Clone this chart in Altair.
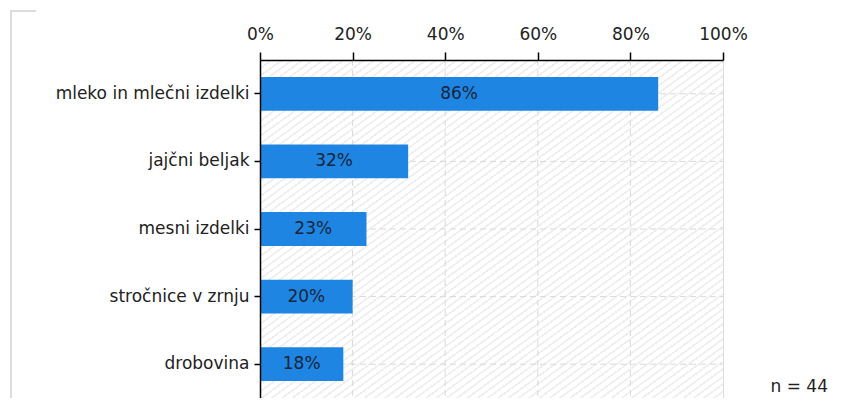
import altair as alt
import pandas as pd

categories = ["mleko in mlečni izdelki", "jajčni beljak", "mesni izdelki", "stročnice v zrnju", "drobovina"]
values = [86, 32, 23, 20, 18]
x_ticks = [0, 20, 40, 60, 80, 100]
grid_x = [20, 40, 60, 80]
note = "n = 44"

W, H = 463, 338
FONT = "DejaVu Sans"

df = pd.DataFrame({"cat": categories, "val": values})
df["label"] = [f"{v}%" for v in values]
gdf = pd.DataFrame({"g": grid_x})

# faint diagonal hatch
stops = []
n = 90
for i in range(n):
    a = i / n
    b = (i + 0.3) / n
    c = (i + 1) / n
    stops += [
        {"offset": a, "color": "#efefef"},
        {"offset": b, "color": "#efefef"},
        {"offset": b, "color": "#ffffff"},
        {"offset": c, "color": "#ffffff"},
    ]
hatch_grad = {"gradient": "linear", "x1": 0, "y1": 0, "x2": 1, "y2": 1, "stops": stops}

xscale = alt.Scale(domain=[0, 100], nice=False)
yscale = alt.Scale(domain=categories, paddingInner=0.5, paddingOuter=0.25)

hatch = alt.Chart(df).mark_rect(color=hatch_grad, opacity=1).encode(
    x=alt.value(0), x2=alt.value(W), y=alt.value(0), y2=alt.value(H)
)

vgrid = alt.Chart(gdf).mark_rule(color="#d9d9d9", strokeDash=[6, 4], strokeWidth=1).encode(
    x=alt.X("g:Q", scale=xscale)
)
hgrid = alt.Chart(df).mark_rule(color="#d9d9d9", strokeDash=[6, 4], strokeWidth=1).encode(
    y=alt.Y("cat:N", scale=yscale, sort=categories, bandPosition=0.5),
    x=alt.value(0), x2=alt.value(W)
)

bars = alt.Chart(df).mark_bar(color="#1e86e2").encode(
    x=alt.X("val:Q", scale=xscale,
            axis=alt.Axis(orient="top", values=x_ticks, labelExpr="datum.value + '%'",
                          title=None, grid=False, domainColor="#000000", tickColor="#000000",
                          domainWidth=1.5, tickWidth=1.5, tickSize=8, labelPadding=9,
                          labelFlush=False, labelOverlap=False,
                          labelFont=FONT, labelFontSize=17, labelColor="#222222", zindex=1)),
    y=alt.Y("cat:N", scale=yscale, sort=categories,
            axis=alt.Axis(title=None, grid=False, domainColor="#000000", tickColor="#000000",
                          domainWidth=1.5, tickWidth=1.5, tickSize=6, labelPadding=5,
                          labelLimit=0,
                          labelFont=FONT, labelFontSize=17, labelColor="#222222", zindex=1)),
)

texts = alt.Chart(df).transform_calculate(mid="datum.val / 2").mark_text(
    font=FONT, fontSize=17, color="#18253a", baseline="middle", align="center"
).encode(
    x=alt.X("mid:Q", scale=xscale),
    y=alt.Y("cat:N", scale=yscale, sort=categories, bandPosition=0.5),
    text="label:N",
)

note_df = pd.DataFrame({"t": [note]})
note_mark = alt.Chart(note_df).mark_text(
    font=FONT, fontSize=17, color="#222222", align="right", baseline="middle"
).encode(x=alt.value(568), y=alt.value(327), text="t:N")

frame_v = alt.Chart(note_df).mark_rule(color="#dcdcdc", strokeWidth=2).encode(
    x=alt.value(-249), y=alt.value(-49), y2=alt.value(H + 10)
)
frame_h = alt.Chart(note_df).mark_rule(color="#dcdcdc", strokeWidth=2).encode(
    x=alt.value(-250), x2=alt.value(-224), y=alt.value(-49)
)

chart = alt.layer(hatch, vgrid, hgrid, bars, texts, note_mark, frame_v, frame_h).properties(
    width=W, height=H,
    autosize=alt.AutoSizeParams(type="none"),
    padding={"left": 252, "top": 52, "right": 111, "bottom": 0},
).configure_view(stroke="#d4d4d4", strokeWidth=1).configure(background="#ffffff")

chart.save("out.html", embed_options={"renderer": "svg", "actions": False})
